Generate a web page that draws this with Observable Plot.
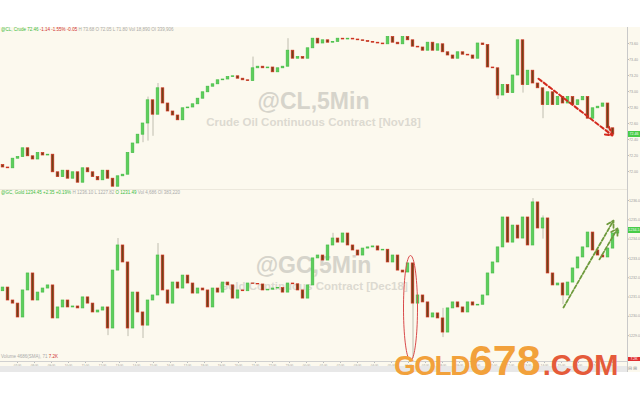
<!DOCTYPE html>
<html><head><meta charset="utf-8">
<script src="https://cdn.jsdelivr.net/npm/d3@7"></script>
<script src="https://cdn.jsdelivr.net/npm/@observablehq/plot@0.6"></script>
<style>
body{margin:0;background:#fff;width:640px;height:400px;overflow:hidden;font-family:"Liberation Sans",Arial,sans-serif}
#wrap{position:relative;width:640px;height:400px;overflow:hidden}
.abs{position:absolute;white-space:nowrap}
svg{position:absolute;left:0}
</style></head><body><div id="wrap"></div>
<script>
// ---- Crude Oil (CL, Nov18) 5-min closes ----
const clFirstOpen = 72.08;
const clClose = [72.05,72.04,72.16,72.18,72.29,72.19,72.15,72.23,72.20,72.21,
 71.99,71.93,72.01,71.91,71.99,71.86,72.04,71.99,71.93,71.89,
 72.01,71.91,71.81,71.94,71.96,72.23,72.35,72.46,72.60,72.89,
 72.71,73.04,72.85,72.75,72.70,72.64,72.79,72.80,72.84,72.91,
 72.99,73.06,73.09,73.14,73.15,73.18,73.19,73.16,73.14,73.13,
 73.29,73.31,73.29,73.30,73.24,73.29,73.31,73.51,73.41,73.43,
 73.41,73.54,73.66,73.60,73.64,73.61,73.62,73.66,73.65,73.66,
 73.65,73.64,73.63,73.62,73.61,73.60,73.59,73.68,73.61,73.59,
 73.68,73.64,73.56,73.55,73.51,73.61,73.51,73.59,73.49,73.45,
 73.41,73.49,73.46,73.45,73.41,73.60,73.58,73.30,73.29,72.95,
 73.08,72.98,73.20,73.64,73.08,73.26,73.10,73.04,72.83,72.99,
 72.83,72.93,72.85,72.93,72.83,72.89,72.93,72.66,72.79,72.81,
 72.85,72.54,72.46];
// [bar, high, low] for visible wicks
const clWicks = [[28,72.60,72.36],[29,72.93,72.38],[30,72.89,72.44],[31,73.10,72.71],[50,73.43,73.13],
 [57,73.66,73.31],[99,73.29,72.90],[104,73.64,72.98],[108,72.99,72.66],[121,72.85,72.46]];
const clTicks = [72.00,72.20,72.40,72.60,72.80,73.00,73.20,73.40,73.60];

// ---- Gold (GC, Dec18) 5-min closes ----
const gcFirstOpen = 1231.30;
const gcClose = [1231.49,1230.82,1230.66,1229.94,1231.34,1232.22,1230.82,1231.23,1231.44,1231.60,
 1229.89,1230.46,1230.82,1230.46,1230.51,1230.41,1230.98,1230.66,1230.20,1230.30,
 1230.46,1229.37,1232.37,1233.67,1232.79,1229.37,1231.23,1230.20,1229.52,1230.82,
 1231.08,1233.15,1231.34,1230.66,1231.75,1231.44,1232.11,1231.70,1231.18,1231.44,
 1231.34,1230.46,1231.44,1231.23,1231.75,1231.60,1230.92,1231.34,1231.30,1231.70,
 1231.68,1231.65,1231.34,1231.38,1231.44,1231.46,1231.23,1231.70,1231.66,1231.34,
 1230.92,1231.60,1233.00,1233.15,1232.89,1233.67,1234.03,1233.82,1234.29,1233.67,
 1233.41,1233.15,1233.51,1233.57,1233.62,1233.41,1233.45,1232.79,1233.15,1232.37,
 1232.27,1232.74,1230.66,1231.08,1230.72,1229.94,1230.15,1229.89,1229.16,1230.41,
 1230.72,1230.46,1230.20,1230.72,1230.56,1230.60,1231.08,1232.22,1232.79,1233.57,
 1235.12,1233.82,1234.70,1234.03,1235.12,1233.67,1235.90,1234.55,1235.07,1232.22,
 1231.60,1231.70,1231.08,1231.75,1232.48,1233.05,1233.57,1234.34,1233.41,1233.15,
 1233.05,1233.51,1234.29,1234.45];
const gcWicks = [[21,1230.46,1229.00],[23,1234.03,1232.37],[25,1232.79,1228.95],[28,1230.20,1228.85],
 [31,1233.77,1231.08],[66,1234.30,1233.67],[82,1232.74,1227.82],[88,1230.41,1228.90],
 [106,1236.10,1233.67],[108,1235.20,1234.00],[112,1231.75,1230.60]];
const gcTicks = [1229,1230,1231,1232,1233,1234,1235,1236];

// x-axis tick labels
const xLabels = ["07:00","08:00","09:00","10:00","11:00","12:00","13:00","14:00","15:00","16:00","17:00","18:00",
 "19:00","20:00","21:00","22:00","23:00","00:00","01:00","02:00","03:00","04:00","05:00","06:00",
 "07:00","08:00","09:00","10:00","11:00","12:00","13:00","14:00","15:00","16:00","17:00","18:00"];
const xTicks = xLabels.map((_, k) => (k + 1) * 3.4 - 0.5);

// annotations (bar, price)
const clTrend = [{x1:107.1, y1:73.16, x2:121.9, y2:72.45}];
const gcTrend = [{x1:112.1, y1:1230.46, x2:122.1, y2:1234.96},{x1:119.3, y1:1232.95, x2:122.9, y2:1234.55}];
const gcOval = {cx:81.5, cy:1230.43, rx:1.4, ry:2.72};

function bars(close, firstOpen, wicks){
  const w = new Map(wicks.map(d => [d[0], d]));
  return close.map((c, i) => {
    const o = i === 0 ? firstOpen : close[i - 1];
    const wk = w.get(i);
    return {i, o, c,
      hi: Math.max(o, c, wk ? wk[1] : -Infinity),
      lo: Math.min(o, c, wk ? wk[2] : Infinity),
      up: c >= o};
  });
}
function candleMarks(data){
  return [
    Plot.ruleX(data, {x:"i", y1:"lo", y2:"hi", stroke:"#b0ae a0".replace(" ", ""), strokeWidth:0.8}),
    Plot.rect(data, {x1:d => d.i - 0.26, x2:d => d.i + 0.26, y1:"o", y2:"c",
      fill:d => d.up ? "#5ccf5c" : "#6e4418", stroke:d => d.up ? "#48be48" : "#d2311f", strokeWidth:0.7})
  ];
}

const wrap = document.getElementById("wrap");
function add(html, style){ const d = document.createElement("div"); d.className = "abs"; d.style.cssText = style; d.innerHTML = html; wrap.appendChild(d); return d; }

// background
add("", "left:0;top:27px;width:640px;height:345px;background:#fcf9ee");
// watermarks
const wm = "left:0;width:627px;text-align:center;font-family:'Liberation Sans';font-weight:bold;";
add("@CL,5Min", wm + "top:90px;font-size:23px;line-height:23px;color:#d6d4cb");
add("Crude Oil Continuous Contract [Nov18]", wm + "top:116.5px;font-size:11.5px;line-height:11.5px;color:#dcdad1");
add("@GC,5Min", wm + "top:254px;font-size:23px;line-height:23px;color:#d6d4cb");
add("Gold Continuous Contract [Dec18]", wm + "top:280.5px;font-size:11.5px;line-height:11.5px;color:#dcdad1");

const xDomain = [-0.5, 124.9];
const clBars = bars(clClose, clFirstOpen, clWicks);
const gcBars = bars(gcClose, gcFirstOpen, gcWicks);

const topPlot = Plot.plot({
  width:640, height:162, marginTop:0, marginBottom:0, marginLeft:0, marginRight:13,
  style:{background:"transparent", fontFamily:"Liberation Sans"},
  x:{domain:xDomain, axis:null},
  y:{domain:[71.775, 73.80], axis:null},
  marks:[
    Plot.axisY(clTicks, {anchor:"right", tickSize:1, tickPadding:0.5, fontSize:3.6, fill:"#999", stroke:"#bbb", tickFormat:d => d.toFixed(2)}),
    ...candleMarks(clBars),
    Plot.arrow(clTrend, {x1:"x1", y1:"y1", x2:"x2", y2:"y2", stroke:"#d42a1e", strokeWidth:2, strokeDasharray:"4,2.5", headLength:7})
  ]
});
topPlot.style.top = "27px";
wrap.appendChild(topPlot);

const ellipse = d3.range(0, 2 * Math.PI + 0.05, Math.PI / 40).map(t => ({x: gcOval.cx + gcOval.rx * Math.cos(t), y: gcOval.cy + gcOval.ry * Math.sin(t)}));
const bottomPlot = Plot.plot({
  width:640, height:183, marginTop:0, marginBottom:11, marginLeft:0, marginRight:13,
  style:{background:"transparent", fontFamily:"Liberation Sans"},
  x:{domain:xDomain, axis:null},
  y:{domain:[1227.66, 1236.57], axis:null},
  marks:[
    Plot.axisY(gcTicks, {anchor:"right", tickSize:1, tickPadding:0.5, fontSize:3.6, fill:"#999", stroke:"#bbb", tickFormat:d => d.toFixed(1)}),
    Plot.axisX(xTicks, {anchor:"bottom", tickSize:2, tickPadding:1, fontSize:3, fill:"#999", stroke:"#bbb", tickFormat:d => xLabels[xTicks.indexOf(d)]}),
    ...candleMarks(gcBars),
    Plot.line(ellipse, {x:"x", y:"y", stroke:"#d94a4a", strokeWidth:1}),
    Plot.arrow(gcTrend, {x1:"x1", y1:"y1", x2:"x2", y2:"y2", stroke:"#6e9a3c", strokeWidth:1.8, strokeDasharray:"3.5,2", headLength:6})
  ]
});
bottomPlot.style.top = "189px";
wrap.appendChild(bottomPlot);

// frame lines
add("", "left:627px;top:27px;width:1px;height:345px;background:#c9c9c9");
add("", "left:0;top:189px;width:627px;height:1px;background:#ece8dc");
add("", "left:0;top:361px;width:627px;height:1px;background:#d0d0d0");
add("", "left:0;top:366px;width:627px;height:6px;background:#e8e8e8");
add("⊟ ⊞", "left:628px;top:365px;font-size:5px;color:#999");

// current price boxes
const cy1 = topPlot.scale("y").apply(clClose[clClose.length - 1]) + 27;
add(clClose[clClose.length - 1].toFixed(2), `left:628px;top:${cy1 - 3}px;width:12px;height:6px;background:#48cc48;color:#fff;font-size:3.6px;line-height:6px;text-align:center`);
const cy2 = bottomPlot.scale("y").apply(gcClose[gcClose.length - 1]) + 189;
add(gcClose[gcClose.length - 1].toFixed(1), `left:628px;top:${cy2 - 3}px;width:12px;height:6px;background:#48cc48;color:#fff;font-size:3.6px;line-height:6px;text-align:center`);
add("7.2K", "left:628px;top:357px;width:12px;height:4px;background:#e03030;color:#fff;font-size:3.5px;line-height:4px;text-align:center");

// info lines
const info = "font-size:4.5px;line-height:5px;";
add('<span style="color:#3cbb3c">@CL, Crude 72.46</span> <span style="color:#d03030">-1.14 -1.55% -0.05</span> <span style="color:#aaa">H 73.68 O 72.05 L 71.80 Vol 18,890 OI 339,906</span>', info + "left:1px;top:27px");
add('<span style="color:#3cbb3c">@GC, Gold 1234.45 +2.35 +0.19%</span> <span style="color:#aaa">H 1236.10 L 1227.82</span> <span style="color:#3cbb3c">O 1231.49</span> <span style="color:#aaa">Vol 4,686 OI 383,220</span>', info + "left:1px;top:190px");
add('<span style="color:#aaa">Volume 4686(SMA), 71</span> <span style="color:#d03030">7.2K</span>', info + "left:1px;top:354px");

// brand watermark
add('<span style="font-size:28px;letter-spacing:-1.5px">GOLD</span><span style="font-size:43px">678</span><span style="font-size:29px;color:#e55b3a;margin-left:2px">.COM</span>',
  "left:394px;top:338.6px;color:#f2a13b;font-weight:bold;font-family:'Liberation Sans';font-size:43px;line-height:1");
</script></body></html>
